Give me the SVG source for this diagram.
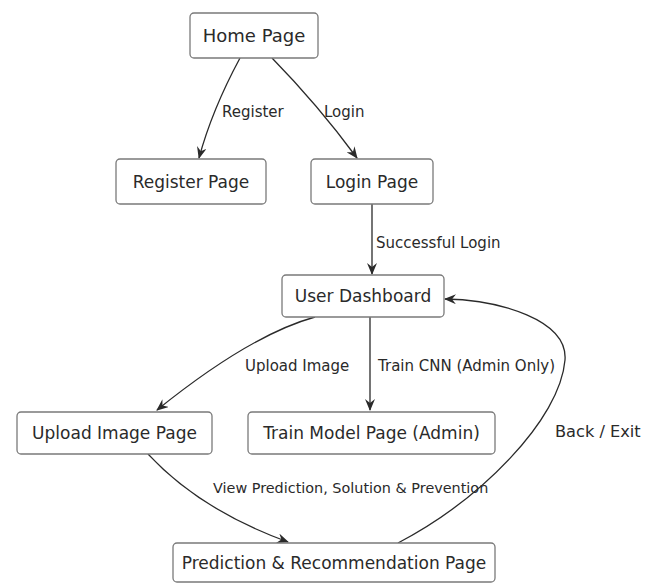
<svg xmlns="http://www.w3.org/2000/svg" width="656" height="583" viewBox="0 0 656 583">
  <style>
    .box { fill: #ffffff; stroke: #7a7a7a; stroke-width: 1.3; }
    .label { font-family: "DejaVu Sans", sans-serif; font-size: 17px; fill: #2a2a2a; text-anchor: middle; }
    .edge { fill: none; stroke: #2a2a2a; stroke-width: 1.3; marker-end: url(#arrow); }
    .edge-label { font-family: "DejaVu Sans", sans-serif; font-size: 15px; fill: #2a2a2a; }
  </style>
  <defs>
    <marker id="arrow" viewBox="0 0 12 10" refX="11" refY="5" markerWidth="12" markerHeight="10" markerUnits="userSpaceOnUse" orient="auto">
      <path d="M0,0 L12,5 L0,10 L4,5 z" fill="#2a2a2a"/>
    </marker>
  </defs>
  <rect width="656" height="583" fill="#ffffff"/>

  <g id="connectors">
    <path class="edge" d="M240,58 Q212,110 199,158"/>
    <path class="edge" d="M272,58 Q318,105 357,158"/>
    <path class="edge" d="M372,204 L372,274"/>
    <path class="edge" d="M315,317 Q250,335 157,410"/>
    <path class="edge" d="M370,317 L370,410"/>
    <path class="edge" d="M148,454 Q200,510 288,542"/>
    <path class="edge" d="M398,543 C480,500 560,420 565,360 C568,320 500,300 445,299"/>
    <text class="edge-label" x="222" y="117">Register</text>
    <text class="edge-label" x="324" y="117">Login</text>
    <text class="edge-label" x="376" y="248">Successful Login</text>
    <text class="edge-label" x="245" y="371">Upload Image</text>
    <text class="edge-label" x="378" y="371">Train CNN (Admin Only)</text>
    <text class="edge-label" x="555" y="437" style="font-size:16.2px">Back / Exit</text>
    <text class="edge-label" x="213" y="493" style="font-size:14.4px">View Prediction, Solution &amp; Prevention</text>
  </g>

  <g id="home">
    <rect class="box" x="190" y="13" width="128" height="45" rx="4"/>
    <text class="label" x="254" y="42" style="font-size:18px">Home Page</text>
  </g>
  <g id="register">
    <rect class="box" x="116" y="159" width="150" height="45" rx="4"/>
    <text class="label" x="191" y="188">Register Page</text>
  </g>
  <g id="login">
    <rect class="box" x="311" y="159" width="122" height="45" rx="4"/>
    <text class="label" x="372" y="188">Login Page</text>
  </g>
  <g id="dashboard">
    <rect class="box" x="282" y="275" width="162" height="42" rx="4"/>
    <text class="label" x="363" y="302">User Dashboard</text>
  </g>
  <g id="upload">
    <rect class="box" x="17" y="412" width="195" height="42" rx="4"/>
    <text class="label" x="114.5" y="439">Upload Image Page</text>
  </g>
  <g id="train">
    <rect class="box" x="248" y="412" width="247" height="42" rx="4"/>
    <text class="label" x="371.5" y="439">Train Model Page (Admin)</text>
  </g>
  <g id="prediction">
    <rect class="box" x="173" y="543" width="322" height="39" rx="4"/>
    <text class="label" x="334" y="569">Prediction &amp; Recommendation Page</text>
  </g>
</svg>
